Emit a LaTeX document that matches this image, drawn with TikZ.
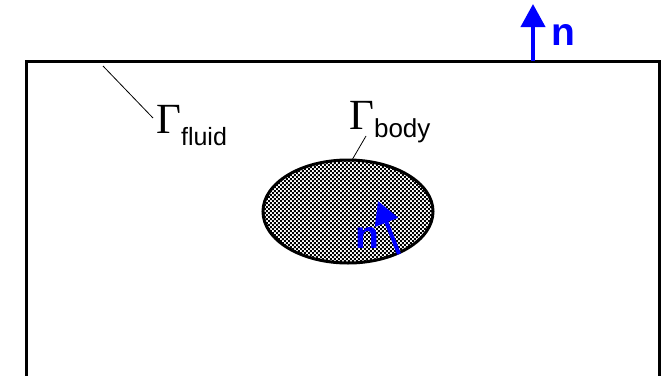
\documentclass[tikz,border=0pt]{standalone}
\usepackage{fontspec}
\setmainfont{Liberation Sans}
\newfontfamily\gamfont{Liberation Serif}
\usetikzlibrary{patterns,arrows.meta}
\definecolor{nblue}{RGB}{0,0,255}
\pgfdeclarepatternformonly{stipple}{\pgfqpoint{0pt}{0pt}}{\pgfqpoint{4.4pt}{4.4pt}}{\pgfqpoint{4.4pt}{4.4pt}}{%
  \pgfpathrectangle{\pgfqpoint{0pt}{0pt}}{\pgfqpoint{2.1pt}{2.1pt}}%
  \pgfpathrectangle{\pgfqpoint{2.2pt}{2.2pt}}{\pgfqpoint{2.1pt}{2.1pt}}%
  \pgfusepath{fill}}
\begin{document}
\begin{tikzpicture}[x=1pt,y=-1pt,
  wall/.style={line width=3pt,line cap=butt,line join=miter},
  leader/.style={line width=0.8pt},
  normal/.style={nblue,line width=4pt,-{Triangle[length=23pt,width=24pt]}},
  nlabel/.style={text=nblue,font=\fontsize{39}{39}\selectfont\bfseries,inner sep=0pt},
  gam/.style={inner sep=0pt,anchor=base west}]
\useasboundingbox (0,0) rectangle (663,375);
% domain outline (open at bottom)
\draw[wall] (26,376) -- (26,61) -- (659,61) -- (659,376);
% body
\fill[white] (348,211.5) ellipse [x radius=85,y radius=51.5];
\fill[pattern=stipple,pattern color=black] (348,211.5) ellipse [x radius=84,y radius=50.5];
\draw[line width=3pt] (348,211.5) ellipse [x radius=85,y radius=51.5];
% labels
\node[gam] (gf) at (156,133) {\gamfont\fontsize{43}{43}\selectfont Γ\fontsize{25}{25}\raisebox{-12pt}{\rmfamily fluid}};
\node[gam] (gb) at (349,129) {\gamfont\fontsize{43}{43}\selectfont Γ\fontsize{26}{26}\raisebox{-8pt}{\rmfamily body}};
\coordinate (f1) at (103,66);
\coordinate (f2) at (153,118);
\draw[leader] (f1) -- (f2);
\coordinate (b1) at (366,136);
\coordinate (b2) at (352,160);
\draw[leader] (b1) -- (b2);
% normals
\coordinate (t0) at (533,61);
\coordinate (t1) at (533,4);
\draw[normal] (t0) -- (t1);
\node[nlabel,anchor=base west] (nt) at (551,45) {n};
\coordinate (i0) at (399,254);
\coordinate (i1) at (378,201);
\draw[normal] (i0) -- (i1);
\node[nlabel,anchor=base west] (ni) at (355,248) {n};
\end{tikzpicture}
\end{document}
